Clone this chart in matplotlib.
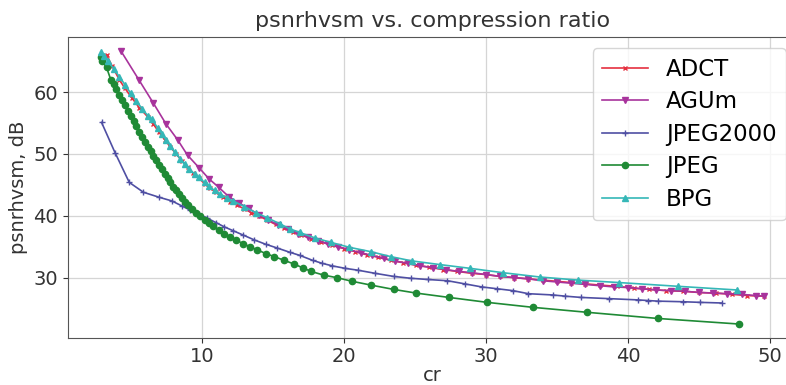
import matplotlib
matplotlib.use("Agg")
import matplotlib.pyplot as plt

# compression ratio / psnrhvsm (dB) per codec
adct_cr = [3.3, 3.7, 4.2, 4.6, 5.1, 5.6, 6.2, 6.6, 7.0, 7.4, 7.8, 8.2, 8.6, 9.0,
           9.4, 9.8, 10.2, 10.6, 11.0, 11.5, 12.0, 12.5, 13.0, 13.5, 14.0, 14.6,
           15.2, 15.8, 16.4, 17.0, 17.7, 18.4, 19.2, 20.0, 20.8, 21.6, 22.4,
           23.3, 24.2, 25.1, 26.0, 27.0, 28.0, 29.0, 30.0, 31.0, 32.0, 33.0,
           34.0, 35.0, 36.0, 37.0, 38.0, 39.2, 40.4, 41.5, 42.7, 43.9, 45.0,
           46.2, 47.3, 48.4, 49.6]
adct_db = [66.0, 64.2, 62.0, 60.6, 59.0, 57.5, 56.0, 54.8, 53.5, 52.3, 51.1,
           50.0, 48.9, 47.9, 46.9, 46.1, 45.2, 44.5, 43.8, 43.0, 42.3, 41.7,
           41.1, 40.5, 40.0, 39.3, 38.6, 38.0, 37.4, 36.9, 36.3, 35.8, 35.2,
           34.7, 34.2, 33.7, 33.3, 32.8, 32.4, 32.0, 31.7, 31.3, 31.0, 30.7,
           30.5, 30.2, 30.0, 29.8, 29.6, 29.4, 29.2, 29.0, 28.8, 28.6, 28.3,
           28.1, 27.9, 27.8, 27.6, 27.5, 27.3, 27.1, 27.0]

agum_cr = [4.3, 5.6, 6.6, 7.5, 8.3, 9.0, 9.8, 10.5, 11.2, 11.9, 12.6, 13.3,
           14.0, 14.7, 15.4, 16.1, 16.8, 17.5, 18.2, 18.9, 19.6, 20.4, 21.2,
           22.0, 22.8, 23.6, 24.5, 25.4, 26.3, 27.2, 28.1, 29.0, 30.0, 31.0,
           32.0, 33.0, 34.0, 35.0, 36.0, 37.0, 38.0, 39.0, 40.0, 41.0, 42.0,
           43.0, 44.0, 45.0, 46.0, 47.0, 48.0, 49.0, 49.6]
agum_db = [66.7, 61.9, 58.2, 54.8, 52.3, 49.8, 47.8, 46.0, 44.6, 43.1, 42.1,
           41.2, 40.2, 39.3, 38.5, 37.8, 37.1, 36.5, 36.0, 35.4, 35.0, 34.5,
           34.0, 33.6, 33.1, 32.7, 32.3, 31.9, 31.6, 31.3, 31.0, 30.8, 30.5,
           30.2, 30.0, 29.8, 29.5, 29.3, 29.1, 28.9, 28.7, 28.5, 28.4, 28.2,
           28.0, 27.9, 27.8, 27.6, 27.5, 27.4, 27.3, 27.1, 27.0]

jp2k_cr = [2.95, 3.9, 4.9, 5.9, 7.0, 7.9, 8.6, 9.2, 9.8, 10.4, 11.0, 11.6,
           12.2, 12.9, 13.7, 14.5, 15.3, 16.2, 16.9, 17.8, 18.5, 19.2, 20.1,
           21.0, 22.2, 23.5, 24.7, 25.9, 27.3, 28.5, 29.7, 30.8, 31.9, 33.0,
           34.7, 35.6, 36.7, 38.7, 40.7, 41.4, 42.1, 43.9, 45.1, 46.6]
jp2k_db = [55.1, 50.2, 45.4, 43.8, 43.0, 42.4, 41.6, 40.9, 40.3, 39.6, 38.9,
           38.2, 37.6, 36.9, 36.1, 35.4, 34.8, 34.1, 33.6, 32.8, 32.3, 31.9,
           31.5, 31.2, 30.7, 30.2, 29.9, 29.7, 29.5, 29.0, 28.5, 28.2, 27.9,
           27.4, 27.2, 27.0, 26.8, 26.6, 26.4, 26.3, 26.2, 26.1, 26.0, 25.9]

jpeg_cr = [2.9, 3.0, 3.3, 3.6, 3.8, 4.0, 4.2, 4.4, 4.6, 4.8, 5.0, 5.2, 5.4,
           5.6, 5.8, 6.0, 6.2, 6.4, 6.6, 6.8, 7.0, 7.2, 7.4, 7.6, 7.8, 8.0,
           8.2, 8.4, 8.6, 8.8, 9.0, 9.3, 9.6, 9.9, 10.2, 10.5, 10.8, 11.2,
           11.6, 12.0, 12.4, 12.9, 13.4, 13.9, 14.5, 15.1, 15.8, 16.5, 17.1,
           17.7, 18.6, 19.5, 20.6, 21.9, 23.5, 25.1, 27.4, 30.1, 33.3, 37.1,
           42.1, 47.8]
jpeg_db = [65.6, 65.0, 64.0, 62.0, 61.3, 60.5, 59.6, 58.8, 57.9, 57.0, 56.1,
           55.3, 54.5, 53.6, 52.8, 52.0, 51.2, 50.5, 49.7, 49.0, 48.2, 47.5,
           46.8, 46.1, 45.4, 44.7, 44.1, 43.5, 42.9, 42.3, 41.8, 41.1, 40.5,
           39.9, 39.3, 38.8, 38.3, 37.7, 37.1, 36.6, 36.1, 35.5, 35.0, 34.5,
           33.9, 33.4, 32.8, 32.2, 31.6, 31.0, 30.4, 30.0, 29.4, 28.8, 28.1,
           27.5, 26.8, 26.0, 25.2, 24.4, 23.4, 22.5]

bpg_cr = [2.9, 3.1, 3.4, 3.8, 4.2, 4.6, 5.0, 5.4, 5.8, 6.2, 6.5, 6.9, 7.2,
          7.5, 7.8, 8.1, 8.5, 8.8, 9.1, 9.5, 9.8, 10.2, 10.5, 10.9, 11.3, 11.8,
          12.2, 13.0, 13.8, 14.6, 15.5, 16.2, 16.9, 18.0, 19.1, 20.4, 21.9,
          23.3, 24.8, 26.8, 28.9, 31.2, 33.8, 36.5, 39.4, 43.5, 47.7]
bpg_db = [66.5, 65.8, 65.0, 63.8, 62.5, 61.2, 59.8, 58.6, 57.3, 56.2, 55.6,
          54.2, 53.2, 52.2, 51.3, 50.3, 49.2, 48.3, 47.5, 46.8, 46.2, 45.4,
          44.8, 44.1, 43.5, 42.9, 42.4, 41.5, 40.5, 39.7, 38.7, 37.9, 37.3,
          36.4, 35.7, 34.9, 34.2, 33.4, 32.7, 32.1, 31.5, 30.8, 30.1, 29.6,
          29.2, 28.6, 28.0]

fig = plt.figure(figsize=(7.86, 3.85), dpi=100)
ax = fig.add_axes([0.0861, 0.1229, 0.9285, 0.781])

ax.plot(adct_cr, adct_db, color="#e5303f", marker="x", ms=3.5, lw=1.2, label="ADCT")
ax.plot(agum_cr, agum_db, color="#a8339c", marker="v", ms=4, lw=1.2, label="AGUm")
ax.plot(jp2k_cr, jp2k_db, color="#4f4fa3", marker="+", ms=5, lw=1.2, label="JPEG2000")
ax.plot(jpeg_cr, jpeg_db, color="#1f8a35", marker="o", ms=4.5, lw=1.2, label="JPEG")
ax.plot(bpg_cr, bpg_db, color="#35b7b7", marker="^", ms=4, lw=1.2, label="BPG")

ax.grid(True, color="#d5d5d5", lw=0.9)
ax.set_axisbelow(True)
for s in ax.spines.values():
    s.set_color("#555555")
ax.tick_params(labelsize=14, colors="#333333")
ax.set_xlabel("cr", fontsize=14, color="#333333", labelpad=0)
ax.set_ylabel("psnrhvsm, dB", fontsize=14, color="#333333")
ax.set_title("psnrhvsm vs. compression ratio", fontsize=16, color="#333333", pad=7)
ax.legend(loc="upper right", fontsize=16.5, labelspacing=0.42)

fig.savefig("out.png", dpi=100)
